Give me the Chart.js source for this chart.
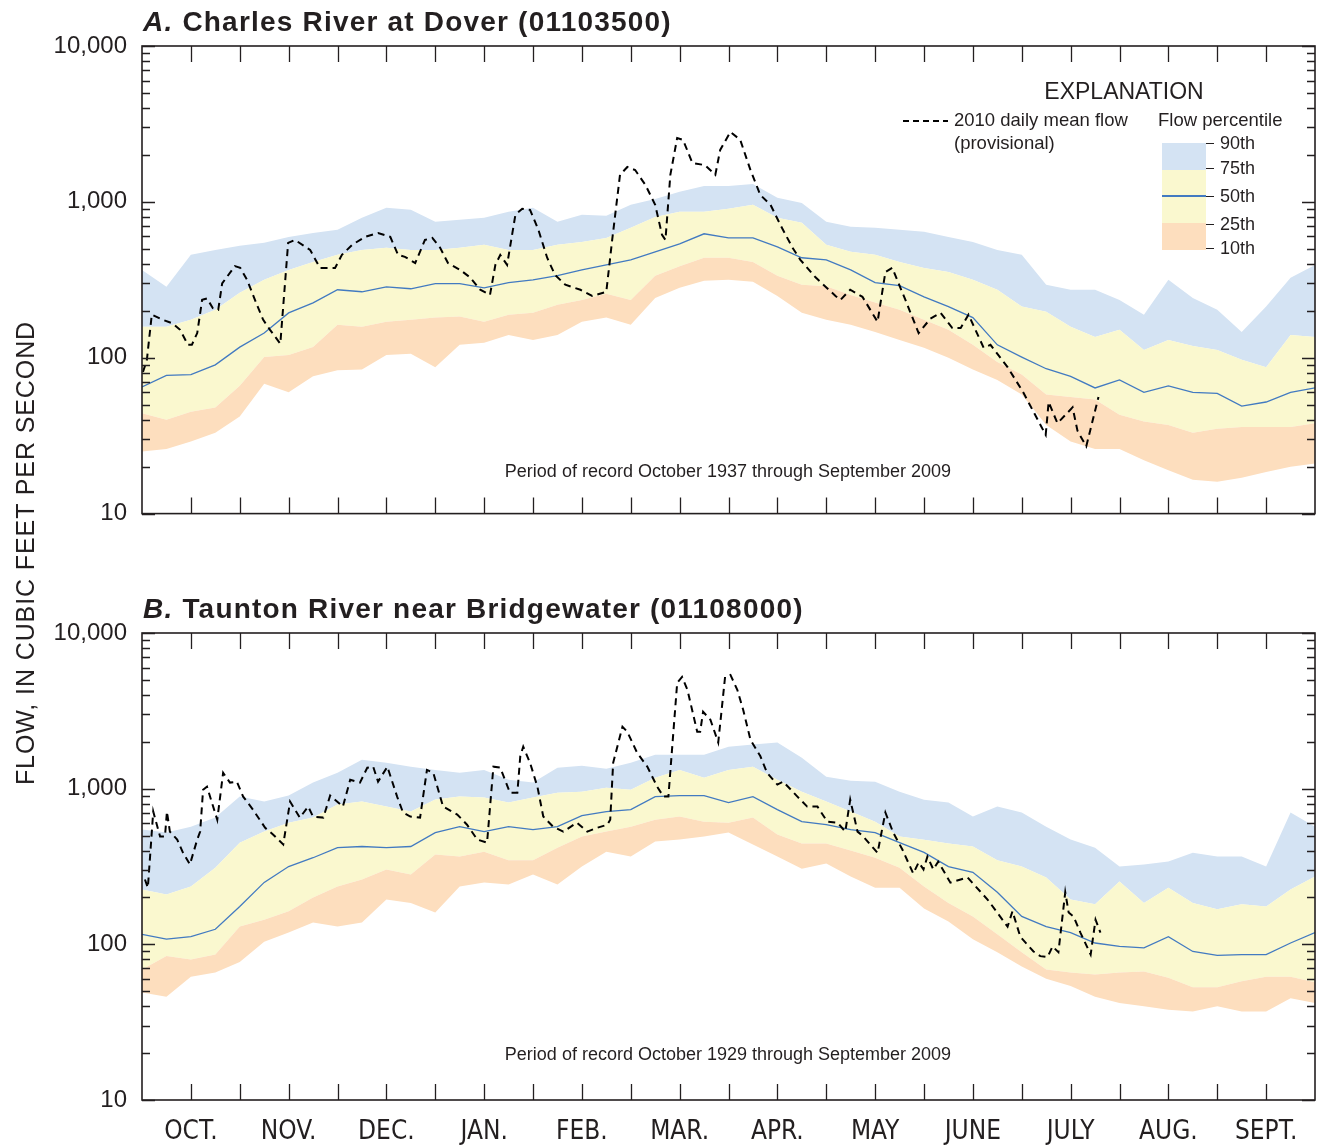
<!DOCTYPE html>
<html>
<head>
<meta charset="utf-8">
<script src="https://cdn.jsdelivr.net/npm/chart.js@4.4.1/dist/chart.umd.min.js"></script>
<style>
  html, body { margin:0; padding:0; background:#fff; }
  body { width:1322px; height:1147px; position:relative; overflow:hidden;
         font-family:"Liberation Sans", Arial, Helvetica, sans-serif; color:#231f20; }
  canvas { position:absolute; left:0; }
  #chartA { top:0; }
  #chartB { top:560px; }
  .t { position:absolute; white-space:nowrap; }
  .title { left:143px; font-size:28px; font-weight:bold; letter-spacing:1.2px; line-height:28px; }
  .title i { font-style:italic; }
  .ytitle { left:-275px; top:540px; width:600px; text-align:center; font-size:25px; line-height:26px;
            transform:rotate(-90deg); letter-spacing:0.9px; }
  .period { left:428px; width:600px; text-align:center; font-size:18px; line-height:20px; }
  .expl { left:1024px; width:200px; text-align:center; font-size:23px; line-height:23px; top:80px; }
  .leg { font-size:18.5px; line-height:23px; }
  .sw { position:absolute; left:1162px; width:44px; }
  .tk { position:absolute; left:1206px; width:8px; height:1px; background:#231f20; }
  .pl { position:absolute; left:1220px; font-size:18px; line-height:20px; }
</style>
</head>
<body>
<canvas id="chartA" width="1322" height="543"></canvas>
<canvas id="chartB" width="1322" height="587"></canvas>

<div class="t title" style="top:8px;"><i>A.</i> Charles River at Dover (01103500)</div>
<div class="t title" style="top:595px;"><i>B.</i> Taunton River near Bridgewater (01108000)</div>
<div class="t ytitle">FLOW, IN CUBIC FEET PER SECOND</div>
<div class="t period" style="top:461px;">Period of record October 1937 through September 2009</div>
<div class="t period" style="top:1044px;">Period of record October 1929 through September 2009</div>

<div class="t expl">EXPLANATION</div>
<svg class="t" style="left:900px;top:115px;" width="52" height="12"><line x1="3" y1="6" x2="48" y2="6" stroke="#000" stroke-width="2" stroke-dasharray="6,4"/></svg>
<div class="t leg" style="left:954px;top:108px;">2010 daily mean flow<br>(provisional)</div>
<div class="t leg" style="left:1158px;top:108px;">Flow percentile</div>
<div class="sw" style="top:143px;height:27px;background:rgb(212,227,243);"></div>
<div class="sw" style="top:170px;height:53px;background:rgb(250,248,207);"></div>
<div class="sw" style="top:223px;height:27px;background:rgb(253,222,190);"></div>
<div class="sw" style="top:195px;height:1.5px;background:rgb(66,122,193);"></div>
<div class="tk" style="top:143px;"></div>
<div class="tk" style="top:168px;"></div>
<div class="tk" style="top:196px;"></div>
<div class="tk" style="top:224px;"></div>
<div class="tk" style="top:248px;"></div>
<div class="pl" style="top:133px;">90th</div>
<div class="pl" style="top:158px;">75th</div>
<div class="pl" style="top:186px;">50th</div>
<div class="pl" style="top:214px;">25th</div>
<div class="pl" style="top:238px;">10th</div>

<script>
// ---- x positions: half-month steps through the water year (0 = Oct 1, 24 = Sep 30)
const halfMonths = [0,0.5,1,1.5,2,2.5,3,3.5,4,4.5,5,5.5,6,6.5,7,7.5,8,8.5,9,9.5,10,10.5,11,11.5,12,
  12.5,13,13.5,14,14.5,15,15.5,16,16.5,17,17.5,18,18.5,19,19.5,20,20.5,21,21.5,22,22.5,23,23.5,24];
const monthLabels = ['OCT.','NOV.','DEC.','JAN.','FEB.','MAR.','APR.','MAY','JUNE','JULY','AUG.','SEPT.'];
const yTickValues = [10, 100, 1000, 10000];

// ---- A. Charles River at Dover: percentiles (cfs)
const chA_p90 = [366,285,457,492,522,546,596,631,662,790,917,889,745,767,790,864,917,745,826,814,957,1045,1160,1265,1265,1300,1062,985,745,692,682,662,642,596,553,492,457,294,273,273,235,189,316,242,203,146,213,326,394];
const chA_p75 = [158,158,175,203,261,316,366,412,457,492,508,492,492,508,530,492,492,530,553,587,682,801,864,864,903,957,790,734,530,478,457,412,377,355,316,273,213,197,158,136,151,112,130,119,112,97,87,140,136];
const chA_p50 = [65,77,78,90,117,144,194,225,273,265,285,277,299,299,281,303,316,336,366,394,425,478,538,624,587,587,514,438,425,366,303,290,246,213,181,121,101,85,76,64,72,60,66,60,59,49,52,60,64];
const chA_p25 = [44,40,45,48,66,101,104,117,163,158,170,175,181,184,170,189,194,219,235,257,235,336,387,438,438,412,336,294,287,253,226,203,175,151,121,94,78,58,56,54,43,39,37,33,35,36,36,36,38];
const chA_p10 = [25,26,29,33,42,68,60,76,83,84,104,106,87,121,125,140,130,140,170,181,163,242,281,312,316,307,249,194,175,163,146,130,116,100,84,72,58,37,29,26,26,22,19,16.5,16,17,18.5,20,21];
// 2010 daily mean flow (provisional)
const chA_flowX = [0.02,0.10,0.20,0.43,0.63,0.78,0.94,1.02,1.13,1.23,1.33,1.45,1.56,1.64,1.90,2.01,2.15,2.35,2.48,2.62,2.83,2.99,3.13,3.44,3.64,3.95,4.09,4.30,4.56,4.83,5.08,5.24,5.38,5.59,5.79,5.94,6.10,6.26,6.51,6.71,6.92,7.12,7.23,7.33,7.47,7.64,7.78,7.94,8.11,8.29,8.45,8.66,8.97,9.21,9.50,9.62,9.78,9.93,10.09,10.30,10.50,10.64,10.71,10.81,10.95,11.07,11.26,11.52,11.73,11.83,12.04,12.24,12.45,12.65,12.86,13.06,13.31,13.47,13.78,14.19,14.29,14.49,14.74,15.05,15.21,15.35,15.62,15.89,16.13,16.34,16.58,16.75,16.91,17.22,17.36,17.71,18.03,18.49,18.55,18.73,19.04,19.14,19.32,19.57];
const chA_flowY = [81,97,189,175,166,151,121,121,144,235,240,208,203,300,387,377,316,219,175,151,123,545,570,492,377,377,457,530,596,631,596,457,444,405,570,587,508,405,366,328,273,253,394,457,394,826,903,889,662,438,340,294,273,249,265,570,1490,1675,1600,1285,957,614,570,1490,2570,2500,1778,1720,1490,2155,2810,2500,1600,1109,957,713,508,425,328,249,235,273,246,170,355,377,235,144,178,194,155,155,189,116,121,87,60,32,52,38,48,34,27,56];

// ---- B. Taunton River near Bridgewater: percentiles (cfs)
const tnB_p90 = [546,522,570,652,889,826,903,1094,1265,1535,1465,1384,1320,1265,1320,1140,1094,1364,1405,1345,1465,1652,1652,1652,1858,1920,1980,1580,1194,1125,1109,957,850,814,662,767,703,570,471,418,316,326,340,387,366,366,316,703,570];
const tnB_p75 = [225,209,235,311,450,530,605,652,790,826,767,713,851,889,876,814,876,940,957,1015,985,1177,1320,1177,1320,1384,1140,957,826,713,614,492,470,444,425,347,316,269,194,181,253,184,231,184,168,181,175,225,273];
const tnB_p50 = [116,108,112,125,175,250,316,360,418,425,418,425,522,570,530,570,546,570,672,713,734,889,903,903,814,889,734,614,587,546,522,450,390,316,290,216,151,130,119,102,97,95,112,90,85,86,86,102,119];
const tnB_p25 = [69,84,80,86,130,144,163,200,235,261,303,281,377,366,394,347,347,418,492,530,570,631,662,614,605,652,508,444,444,400,360,311,235,184,151,116,89,69,66,64,66,67,61,53,53,58,62,62,57];
const tnB_p10 = [49,46,62,66,77,104,119,138,130,138,194,184,160,235,250,242,281,242,316,394,366,457,471,492,522,438,366,306,330,273,231,231,170,140,108,89,72,60,54,46,42,40,38,37,40,37,37,45,42];
const tnB_flowX = [0.06,0.12,0.23,0.37,0.47,0.51,0.57,0.72,0.84,0.98,1.13,1.19,1.25,1.33,1.54,1.66,1.80,1.94,2.07,2.27,2.52,2.68,2.89,3.03,3.23,3.40,3.50,3.71,3.85,4.11,4.26,4.46,4.61,4.73,4.83,5.02,5.22,5.34,5.49,5.69,5.83,5.96,6.16,6.45,6.65,6.86,7.06,7.19,7.33,7.53,7.68,7.74,7.80,7.94,8.09,8.21,8.41,8.62,8.90,9.11,9.31,9.52,9.58,9.64,9.83,9.93,10.13,10.34,10.54,10.67,10.77,10.95,11.05,11.16,11.36,11.42,11.48,11.63,11.79,11.93,12.04,12.18,12.30,12.45,12.65,12.79,13.00,13.12,13.41,13.61,13.82,14.02,14.23,14.39,14.49,14.64,14.76,15.05,15.21,15.37,15.56,15.78,15.89,15.99,16.07,16.19,16.29,16.54,16.75,16.89,17.30,17.71,17.81,17.97,18.24,18.38,18.53,18.63,18.75,18.89,18.96,19.06,19.20,19.41,19.51,19.61];
const tnB_flowY = [261,231,713,492,492,713,530,471,387,326,471,530,985,1030,631,1265,1094,1109,889,734,560,508,438,826,652,767,662,652,903,767,1140,1094,1364,1384,1109,1384,889,703,662,652,1320,1265,767,682,587,471,450,1384,1364,940,940,1620,1860,1465,1030,662,570,530,605,530,560,587,631,1465,2496,2320,1700,1384,1030,889,889,4780,5220,4315,2318,2318,3117,2770,1980,5220,5380,4315,3210,2060,1620,1265,1062,1109,889,767,767,614,605,530,851,530,492,387,703,522,405,285,336,303,366,303,340,249,261,269,194,130,163,112,90,84,83,97,89,216,160,151,119,86,144,119];

// ---- styles
const INK = '#231f20';
const BLUE_FILL = 'rgb(212,227,243)';
const YELLOW_FILL = 'rgb(250,248,207)';
const ORANGE_FILL = 'rgb(253,222,190)';
const MEDIAN = 'rgb(66,122,193)';

function pts(xs, ys) { return xs.map((x, i) => ({ x: x, y: ys[i] })); }

const frameTicks = {
  id: 'frameTicks',
  afterDatasetsDraw(chart) {
    const { ctx, chartArea: a } = chart;
    const xs = chart.scales.x, ys = chart.scales.y;
    ctx.save();
    ctx.strokeStyle = INK;
    ctx.lineWidth = 1.3;
    ctx.beginPath();
    for (let i = 1; i < 24; i++) {
      const px = Math.round(xs.getPixelForValue(i)) + 0.5;
      ctx.moveTo(px, a.top); ctx.lineTo(px, a.top + 16);
      ctx.moveTo(px, a.bottom); ctx.lineTo(px, a.bottom - 16);
    }
    for (let d = 10; d < 10000; d *= 10) {
      for (let m = 1; m <= 10; m++) {
        const v = d * m;
        const py = Math.round(ys.getPixelForValue(v)) + 0.5;
        const len = (m === 1 || m === 10) ? 13 : 8;
        ctx.moveTo(a.left, py); ctx.lineTo(a.left + len, py);
        ctx.moveTo(a.right, py); ctx.lineTo(a.right - len, py);
      }
    }
    ctx.stroke();
    ctx.lineWidth = 1.6;
    ctx.strokeRect(a.left, a.top, a.right - a.left, a.bottom - a.top);
    ctx.restore();
  }
};

function makeChart(id, s, showMonths, padTop, xHeight) {
  const band = (data, fill, color, ord) => ({
    data: pts(halfMonths, data), fill: fill, backgroundColor: color, order: ord,
    borderColor: 'transparent', borderWidth: 0, pointRadius: 0, tension: 0
  });
  return new Chart(document.getElementById(id), {
    type: 'line',
    data: {
      datasets: [
        band(s.p90, '+1', BLUE_FILL, 5),
        band(s.p75, '+1', YELLOW_FILL, 4),
        band(s.p25, '+1', ORANGE_FILL, 3),
        band(s.p10, false, 'transparent', 2),
        { data: pts(halfMonths, s.p50), order: 1, borderColor: MEDIAN, borderWidth: 1.3, pointRadius: 0, fill: false, tension: 0 },
        { data: pts(s.fx, s.fy), order: 0, borderColor: '#000', borderWidth: 2, borderDash: [7, 5], pointRadius: 0, fill: false, tension: 0 }
      ]
    },
    options: {
      responsive: false, animation: false, events: [],
      layout: { padding: { top: padTop, right: 7, bottom: 0, left: 0 } },
      plugins: { legend: { display: false }, tooltip: { enabled: false }, title: { display: false } },
      scales: {
        x: {
          type: 'linear', min: 0, max: 24, display: true,
          grid: { display: false, drawTicks: false }, border: { display: false },
          afterBuildTicks: sc => { sc.ticks = halfMonths.filter(v => v % 2 === 1).map(v => ({ value: v })); },
          ticks: {
            display: showMonths,
            autoSkip: false, maxRotation: 0, padding: 17, color: INK,
            font: { family: '"Liberation Sans Narrow", "DejaVu Sans Condensed", sans-serif', size: 26 },
            callback: v => monthLabels[(v - 1) / 2]
          },
          afterFit: sc => { sc.height = xHeight; }
        },
        y: {
          type: 'logarithmic', min: 10, max: 10000,
          grid: { display: false, drawTicks: false }, border: { display: false },
          afterBuildTicks: sc => { sc.ticks = yTickValues.map(v => ({ value: v })); },
          ticks: {
            padding: 15, color: INK,
            font: { family: '"Liberation Sans", Arial, sans-serif', size: 24 },
            callback: v => Number(v).toLocaleString('en-US')
          },
          afterFit: sc => { sc.width = 142; }
        }
      }
    },
    plugins: [frameTicks]
  });
}

makeChart('chartA', { p90: chA_p90, p75: chA_p75, p50: chA_p50, p25: chA_p25, p10: chA_p10, fx: chA_flowX, fy: chA_flowY }, false, 46, 26);
makeChart('chartB', { p90: tnB_p90, p75: tnB_p75, p50: tnB_p50, p25: tnB_p25, p10: tnB_p10, fx: tnB_flowX, fy: tnB_flowY }, true, 73, 47);
</script>
</body>
</html>
